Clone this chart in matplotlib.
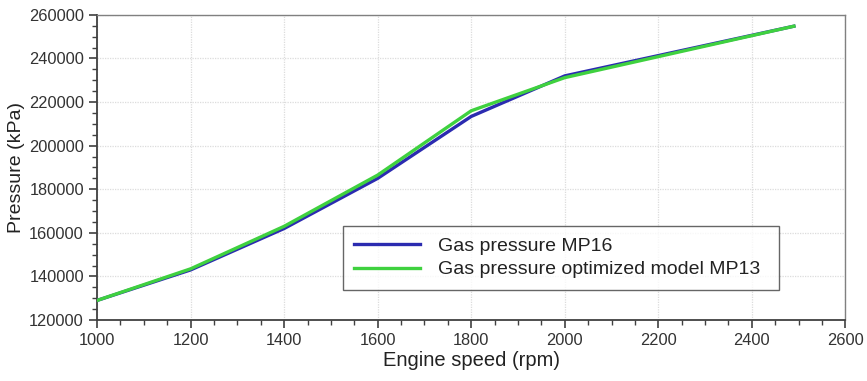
import matplotlib
matplotlib.use("Agg")
import matplotlib.pyplot as plt
from matplotlib.ticker import MultipleLocator

plt.rcParams['font.family'] = ['Liberation Sans', 'DejaVu Sans']

speed = [1000, 1200, 1400, 1600, 1800, 2000, 2490]
mp16 = [129000, 143000, 162000, 185000, 213400, 232000, 254800]
mp13 = [129000, 143500, 163000, 186500, 216000, 231200, 254800]
labels = ["Gas pressure MP16", "Gas pressure optimized model MP13"]

fig = plt.figure(figsize=(8.67, 3.81), dpi=100)
ax = fig.add_axes([0.112, 0.160, 0.863, 0.801])

ax.plot(speed, mp16, color="#2b2bb0", lw=2.4, label=labels[0], zorder=3)
ax.plot(speed, mp13, color="#3fd13f", lw=2.4, label=labels[1], zorder=4)

ax.set_xlim(1000, 2600)
ax.set_ylim(120000, 260000)
ax.xaxis.set_major_locator(MultipleLocator(200))
ax.xaxis.set_minor_locator(MultipleLocator(50))
ax.yaxis.set_major_locator(MultipleLocator(20000))
ax.yaxis.set_minor_locator(MultipleLocator(5000))
ax.grid(True, which="major", color="#dcdcdc", lw=0.9, ls=(0, (1, 1)))

for s in ["left", "bottom"]:
    ax.spines[s].set_color("#404040")
    ax.spines[s].set_linewidth(1.3)
for s in ["top", "right"]:
    ax.spines[s].set_color("#808080")
    ax.spines[s].set_linewidth(1.0)

ax.tick_params(axis="both", which="major", direction="out", length=6, width=1.2,
               color="#404040", labelsize=11.8, labelcolor="#333333")
ax.tick_params(axis="both", which="minor", direction="out", length=3.5, width=1.0,
               color="#404040")

ax.set_xlabel("Engine speed (rpm)", fontsize=14.5, color="#222222", labelpad=2)
ax.set_ylabel("Pressure (kPa)", fontsize=14, color="#222222", labelpad=3)

leg = ax.legend(loc="lower left", bbox_to_anchor=(0.328, 0.098, 0.583, 0.216),
                mode="expand", fontsize=14,
                frameon=True, fancybox=False, edgecolor="#404040",
                handlelength=3.4, borderpad=0.6, labelspacing=0.3,
                handletextpad=0.9, borderaxespad=0)
leg.get_frame().set_linewidth(1.0)
for t in leg.get_texts():
    t.set_color("#222222")

fig.savefig("out.png", dpi=100)
